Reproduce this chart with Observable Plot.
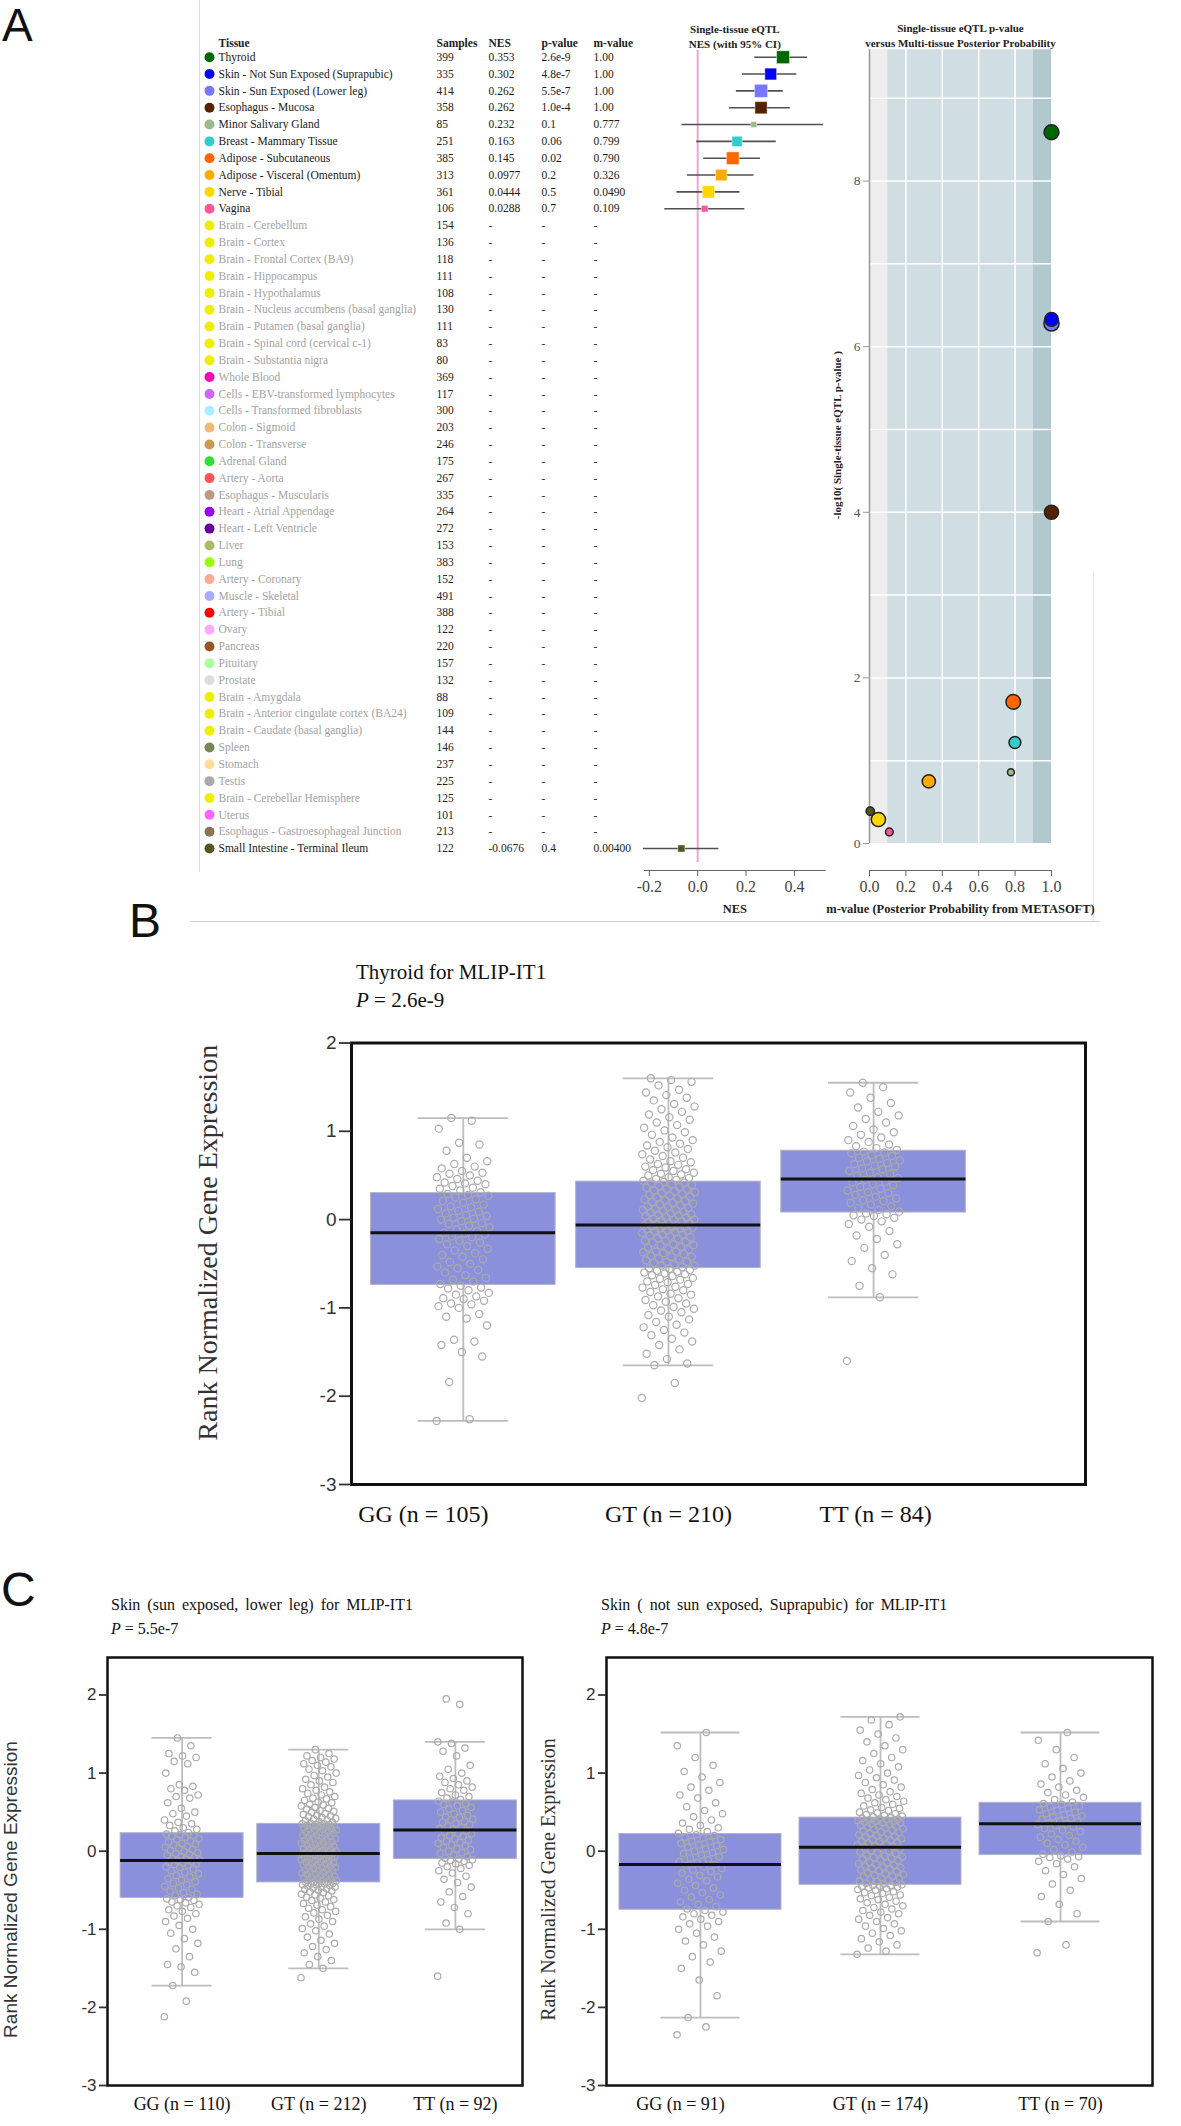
<!DOCTYPE html>
<html><head><meta charset="utf-8">
<script src="https://cdn.jsdelivr.net/npm/d3@7"></script>
<script src="https://cdn.jsdelivr.net/npm/@observablehq/plot@0.6"></script>
<style>
html,body{margin:0;padding:0;background:#fff;}
body{width:1181px;height:2126px;position:relative;overflow:hidden;font-family:"Liberation Serif",serif;color:#111;}
.lab{position:absolute;white-space:nowrap;line-height:1;}
svg{overflow:visible;}
</style></head><body>
<script>
// ---------------- DATA: panel A ----------------
const tissues = ["Thyroid","Skin - Not Sun Exposed (Suprapubic)","Skin - Sun Exposed (Lower leg)","Esophagus - Mucosa","Minor Salivary Gland","Breast - Mammary Tissue","Adipose - Subcutaneous","Adipose - Visceral (Omentum)","Nerve - Tibial","Vagina","Brain - Cerebellum","Brain - Cortex","Brain - Frontal Cortex (BA9)","Brain - Hippocampus","Brain - Hypothalamus","Brain - Nucleus accumbens (basal ganglia)","Brain - Putamen (basal ganglia)","Brain - Spinal cord (cervical c-1)","Brain - Substantia nigra","Whole Blood","Cells - EBV-transformed lymphocytes","Cells - Transformed fibroblasts","Colon - Sigmoid","Colon - Transverse","Adrenal Gland","Artery - Aorta","Esophagus - Muscularis","Heart - Atrial Appendage","Heart - Left Ventricle","Liver","Lung","Artery - Coronary","Muscle - Skeletal","Artery - Tibial","Ovary","Pancreas","Pituitary","Prostate","Brain - Amygdala","Brain - Anterior cingulate cortex (BA24)","Brain - Caudate (basal ganglia)","Spleen","Stomach","Testis","Brain - Cerebellar Hemisphere","Uterus","Esophagus - Gastroesophageal Junction","Small Intestine - Terminal Ileum"];
const tissueColors = ["#006600","#0000ff","#7777ff","#552200","#99bb88","#33cccc","#ff6600","#ffaa00","#ffd700","#ff5599","#eeee00","#eeee00","#eeee00","#eeee00","#eeee00","#eeee00","#eeee00","#eeee00","#eeee00","#ff00bb","#cc66ff","#aaeeff","#eebb77","#cc9955","#33dd33","#ff5555","#bb9988","#9900ff","#660099","#aabb66","#99ff00","#ffaa99","#aaaaff","#ff0000","#ffaaff","#995522","#aaff99","#dddddd","#eeee00","#eeee00","#eeee00","#778855","#ffdd99","#aaaaaa","#eeee00","#ff66ff","#8b7355","#555522"];
const samples = [399,335,414,358,85,251,385,313,361,106,154,136,118,111,108,130,111,83,80,369,117,300,203,246,175,267,335,264,272,153,383,152,491,388,122,220,157,132,88,109,144,146,237,225,125,101,213,122];
const D = "-";
const nesText = ["0.353","0.302","0.262","0.262","0.232","0.163","0.145","0.0977","0.0444","0.0288",D,D,D,D,D,D,D,D,D,D,D,D,D,D,D,D,D,D,D,D,D,D,D,D,D,D,D,D,D,D,D,D,D,D,D,D,D,"-0.0676"];
const pText = ["2.6e-9","4.8e-7","5.5e-7","1.0e-4","0.1","0.06","0.02","0.2","0.5","0.7",D,D,D,D,D,D,D,D,D,D,D,D,D,D,D,D,D,D,D,D,D,D,D,D,D,D,D,D,D,D,D,D,D,D,D,D,D,"0.4"];
const mText = ["1.00","1.00","1.00","1.00","0.777","0.799","0.790","0.326","0.0490","0.109",D,D,D,D,D,D,D,D,D,D,D,D,D,D,D,D,D,D,D,D,D,D,D,D,D,D,D,D,D,D,D,D,D,D,D,D,D,"0.00400"];
const N = null;
const ciLow  = [0.236,0.185,0.160,0.131,-0.065,-0.004,0.025,-0.042,-0.086,-0.136,N,N,N,N,N,N,N,N,N,N,N,N,N,N,N,N,N,N,N,N,N,N,N,N,N,N,N,N,N,N,N,N,N,N,N,N,N,-0.225];
const ciHigh = [0.454,0.410,0.354,0.383,0.520,0.325,0.260,0.233,0.175,0.195,N,N,N,N,N,N,N,N,N,N,N,N,N,N,N,N,N,N,N,N,N,N,N,N,N,N,N,N,N,N,N,N,N,N,N,N,N,0.0875];
const negLog10P = [8.59,6.33,6.28,4.00,0.86,1.22,1.71,0.75,0.29,0.14,N,N,N,N,N,N,N,N,N,N,N,N,N,N,N,N,N,N,N,N,N,N,N,N,N,N,N,N,N,N,N,N,N,N,N,N,N,0.39];
const tableHeaders = ["Tissue","Samples","NES","p-value","m-value"];
const nesTicks = [-0.2,0,0.2,0.4];
const mTicks = [0,0.2,0.4,0.6,0.8,1.0];
const pTicks = [0,2,4,6,8];
const zones = [{x1:0,x2:0.1,fill:"#ededed"},{x1:0.1,x2:0.9,fill:"#d0dde2"},{x1:0.9,x2:1,fill:"#b2c8cf"}];

// ---------------- DATA: panels B, C ----------------
const genotypes = ["GG","GT","TT"];
const rankTicks = [-3,-2,-1,0,1,2];

const thyroidN = [105,210,84];
const thyroidQ1 = [-0.74,-0.55,0.08], thyroidMed = [-0.15,-0.06,0.46], thyroidQ3 = [0.30,0.43,0.78];
const thyroidLo = [-2.28,-1.65,-0.88], thyroidHi = [1.15,1.60,1.55];
const thyroidGG = [-2.28,-2.26,-1.84,-1.55,-1.50,-1.42,-1.38,-1.36,-1.20,-1.12,-1.10,-1.07,-1.00,-0.98,-0.96,-0.95,-0.92,-0.90,-0.89,-0.87,-0.85,-0.83,-0.80,-0.78,-0.77,-0.75,
-0.73,-0.70,-0.68,-0.66,-0.63,-0.60,-0.57,-0.55,-0.53,-0.50,-0.48,-0.45,-0.42,-0.40,-0.38,-0.35,-0.33,-0.30,-0.28,-0.26,-0.24,-0.22,-0.20,-0.19,-0.17,-0.16,-0.15,
-0.13,-0.11,-0.09,-0.07,-0.05,-0.04,-0.02,0.00,0.01,0.02,0.04,0.05,0.07,0.09,0.10,0.12,0.14,0.15,0.17,0.19,0.21,0.23,0.25,0.27,0.28,0.29,
0.31,0.33,0.35,0.36,0.38,0.40,0.41,0.42,0.44,0.46,0.48,0.50,0.52,0.53,0.55,0.58,0.60,0.63,0.66,0.70,0.78,0.85,0.87,1.03,1.12,1.15];
const thyroidGT = [-2.02,-1.85,-1.65,-1.63,-1.58,-1.52,-1.47,-1.42,-1.38,-1.35,-1.31,-1.28,-1.25,-1.22,-1.19,-1.16,-1.13,-1.10,-1.08,-1.05,-1.03,-1.01,-0.99,-0.97,-0.95,-0.93,-0.91,-0.89,-0.87,-0.85,-0.84,-0.82,-0.80,-0.79,-0.77,-0.76,-0.74,-0.73,-0.71,-0.70,-0.68,-0.67,-0.66,-0.64,-0.63,-0.62,-0.61,-0.60,-0.59,-0.58,-0.57,-0.56,
-0.55,-0.54,-0.52,-0.52,-0.51,-0.49,-0.48,-0.48,-0.46,-0.45,-0.44,-0.42,-0.42,-0.41,-0.39,-0.38,-0.37,-0.36,-0.36,-0.34,-0.33,-0.32,-0.31,-0.29,-0.29,-0.28,-0.26,-0.25,-0.24,-0.24,-0.22,-0.21,-0.20,-0.19,-0.18,-0.17,-0.17,-0.15,-0.14,-0.13,-0.13,-0.12,-0.11,-0.10,-0.10,-0.09,-0.09,-0.08,-0.08,-0.07,-0.07,-0.06,
-0.05,-0.04,-0.04,-0.03,-0.02,-0.01,0.00,0.00,0.01,0.02,0.03,0.04,0.05,0.05,0.06,0.07,0.08,0.09,0.10,0.11,0.11,0.12,0.13,0.14,0.15,0.16,0.17,0.18,0.19,0.20,0.21,0.22,0.23,0.24,0.25,0.26,0.27,0.28,0.29,0.30,0.31,0.32,0.33,0.34,0.35,0.36,0.37,0.38,0.39,0.40,0.41,0.42,0.43,
0.44,0.45,0.46,0.47,0.48,0.50,0.51,0.52,0.53,0.55,0.56,0.57,0.59,0.60,0.62,0.63,0.65,0.66,0.68,0.70,0.72,0.74,0.76,0.78,0.80,0.82,0.84,0.86,0.88,0.90,0.93,0.96,0.99,1.01,1.04,1.07,1.10,1.13,1.16,1.19,1.22,1.25,1.28,1.31,1.35,1.38,1.41,1.44,1.47,1.52,1.56,1.58,1.60];
const thyroidTT = [-1.60,-0.88,-0.75,-0.62,-0.55,-0.47,-0.40,-0.32,-0.28,-0.22,-0.18,-0.13,-0.08,-0.05,-0.02,0.00,0.02,0.04,0.05,0.06,0.07,
0.09,0.11,0.13,0.15,0.17,0.19,0.21,0.22,0.24,0.26,0.28,0.30,0.31,0.33,0.35,0.37,0.39,0.40,0.42,0.43,0.45,
0.47,0.48,0.50,0.52,0.53,0.55,0.57,0.58,0.60,0.61,0.63,0.64,0.66,0.67,0.69,0.70,0.72,0.73,0.75,0.76,0.77,
0.79,0.81,0.83,0.85,0.88,0.90,0.93,0.96,0.99,1.02,1.06,1.10,1.14,1.18,1.22,1.27,1.32,1.38,1.44,1.50,1.55];

const legN = [110,212,92];
const legQ1 = [-0.60,-0.40,-0.10], legMed = [-0.12,-0.03,0.27], legQ3 = [0.23,0.35,0.65];
const legLo = [-1.72,-1.50,-1.00], legHi = [1.45,1.30,1.40];
const legGG = [-2.12,-1.92,-1.72,-1.55,-1.48,-1.45,-1.35,-1.25,-1.18,-1.12,-1.05,-1.00,-0.95,-0.90,-0.86,-0.83,-0.80,-0.77,-0.75,-0.72,-0.70,-0.68,-0.66,-0.65,-0.63,-0.62,-0.61,
-0.59,-0.57,-0.55,-0.53,-0.51,-0.49,-0.47,-0.45,-0.43,-0.41,-0.39,-0.37,-0.35,-0.33,-0.31,-0.29,-0.27,-0.25,-0.23,-0.21,-0.20,-0.18,-0.17,-0.16,-0.15,-0.14,-0.13,-0.12,
-0.11,-0.10,-0.09,-0.08,-0.07,-0.05,-0.04,-0.03,-0.02,0.00,0.01,0.02,0.04,0.05,0.06,0.08,0.09,0.10,0.12,0.13,0.15,0.16,0.18,0.19,0.20,0.21,0.22,
0.24,0.26,0.28,0.30,0.33,0.35,0.37,0.40,0.45,0.48,0.50,0.55,0.62,0.68,0.70,0.72,0.78,0.80,0.83,0.85,1.00,1.12,1.15,1.20,1.22,1.25,1.35,1.45];
const legGT = [-1.62,-1.50,-1.45,-1.40,-1.35,-1.30,-1.26,-1.22,-1.18,-1.14,-1.10,-1.06,-1.02,-0.99,-0.96,-0.93,-0.90,-0.87,-0.84,-0.82,-0.79,-0.77,-0.75,-0.73,-0.71,-0.69,-0.67,-0.65,-0.63,-0.62,-0.60,-0.59,-0.57,-0.56,-0.55,-0.53,-0.52,-0.51,-0.50,-0.49,-0.48,-0.47,-0.46,-0.46,-0.45,-0.44,-0.43,-0.43,-0.42,-0.42,-0.41,-0.41,-0.40,
-0.39,-0.39,-0.38,-0.37,-0.36,-0.36,-0.35,-0.34,-0.33,-0.33,-0.32,-0.31,-0.30,-0.29,-0.29,-0.28,-0.27,-0.26,-0.25,-0.25,-0.24,-0.23,-0.22,-0.21,-0.21,-0.20,-0.19,-0.18,-0.17,-0.17,-0.16,-0.15,-0.14,-0.14,-0.13,-0.12,-0.11,-0.11,-0.10,-0.09,-0.09,-0.08,-0.08,-0.07,-0.07,-0.06,-0.06,-0.05,-0.05,-0.04,-0.04,-0.03,-0.03,
-0.02,-0.02,-0.01,0.00,0.00,0.01,0.02,0.02,0.03,0.04,0.05,0.05,0.06,0.07,0.08,0.08,0.09,0.10,0.11,0.12,0.12,0.13,0.14,0.15,0.16,0.16,0.17,0.18,0.19,0.20,0.20,0.21,0.22,0.23,0.24,0.24,0.25,0.26,0.27,0.28,0.28,0.29,0.30,0.30,0.31,0.32,0.32,0.33,0.33,0.34,0.34,0.35,0.35,
0.36,0.37,0.38,0.39,0.40,0.41,0.42,0.43,0.44,0.45,0.46,0.47,0.48,0.50,0.51,0.52,0.54,0.55,0.56,0.58,0.59,0.60,0.62,0.63,0.65,0.67,0.68,0.70,0.72,0.74,0.76,0.78,0.80,0.82,0.85,0.88,0.90,0.92,0.95,0.97,1.00,1.03,1.05,1.08,1.10,1.12,1.14,1.16,1.18,1.20,1.22,1.25,1.30];
const legTT = [-1.60,-1.00,-0.92,-0.80,-0.72,-0.65,-0.58,-0.52,-0.46,-0.40,-0.36,-0.32,-0.28,-0.25,-0.22,-0.20,-0.18,-0.16,-0.15,-0.13,-0.12,-0.11,-0.10,
-0.09,-0.07,-0.05,-0.03,-0.02,0.00,0.02,0.03,0.05,0.07,0.08,0.10,0.11,0.13,0.14,0.16,0.17,0.19,0.20,0.22,0.23,0.25,0.26,
0.28,0.29,0.31,0.32,0.34,0.35,0.37,0.38,0.40,0.41,0.43,0.44,0.46,0.48,0.50,0.52,0.54,0.56,0.58,0.60,0.61,0.63,0.64,
0.66,0.68,0.70,0.72,0.75,0.78,0.80,0.82,0.85,0.88,0.90,0.93,0.96,1.00,1.05,1.10,1.22,1.28,1.32,1.38,1.40,1.88,1.95];

const supraN = [91,174,70];
const supraQ1 = [-0.75,-0.43,-0.05], supraMed = [-0.17,0.05,0.35], supraQ3 = [0.22,0.43,0.62];
const supraLo = [-2.13,-1.32,-0.90], supraHi = [1.52,1.72,1.52];
const supraGG = [-2.35,-2.25,-2.13,-1.85,-1.65,-1.50,-1.42,-1.35,-1.28,-1.20,-1.15,-1.10,-1.05,-1.00,-0.96,-0.93,-0.90,-0.87,-0.84,-0.82,-0.80,-0.78,-0.76,
-0.74,-0.71,-0.68,-0.65,-0.62,-0.59,-0.56,-0.53,-0.50,-0.47,-0.44,-0.41,-0.38,-0.36,-0.33,-0.31,-0.28,-0.26,-0.24,-0.22,-0.20,-0.18,-0.17,
-0.15,-0.13,-0.11,-0.09,-0.07,-0.05,-0.03,-0.02,0.00,0.02,0.03,0.05,0.07,0.08,0.10,0.12,0.13,0.15,0.17,0.18,0.20,0.21,
0.23,0.25,0.28,0.30,0.33,0.36,0.40,0.44,0.48,0.52,0.57,0.62,0.68,0.72,0.78,0.82,0.88,0.95,1.02,1.10,1.20,1.35,1.52];
const supraGT = [-1.32,-1.28,-1.24,-1.20,-1.16,-1.12,-1.08,-1.05,-1.02,-0.99,-0.96,-0.93,-0.90,-0.87,-0.85,-0.82,-0.80,-0.78,-0.76,-0.74,-0.72,-0.70,-0.68,-0.66,-0.64,-0.62,-0.61,-0.59,-0.57,-0.56,-0.54,-0.53,-0.52,-0.50,-0.49,-0.48,-0.47,-0.46,-0.45,-0.45,-0.44,-0.44,-0.43,
-0.42,-0.41,-0.40,-0.39,-0.38,-0.37,-0.36,-0.35,-0.34,-0.33,-0.32,-0.31,-0.30,-0.29,-0.28,-0.26,-0.25,-0.24,-0.23,-0.22,-0.21,-0.20,-0.19,-0.18,-0.17,-0.16,-0.15,-0.14,-0.12,-0.11,-0.10,-0.09,-0.08,-0.07,-0.06,-0.05,-0.03,-0.02,-0.01,0.00,0.01,0.03,0.04,0.05,
0.06,0.07,0.08,0.09,0.10,0.11,0.12,0.13,0.14,0.15,0.16,0.17,0.18,0.19,0.20,0.21,0.22,0.23,0.24,0.25,0.26,0.27,0.28,0.29,0.30,0.31,0.32,0.32,0.33,0.34,0.35,0.36,0.36,0.37,0.38,0.38,0.39,0.40,0.40,0.41,0.41,0.42,0.43,
0.44,0.45,0.46,0.47,0.48,0.49,0.50,0.52,0.53,0.55,0.56,0.58,0.60,0.62,0.64,0.66,0.68,0.70,0.72,0.74,0.76,0.79,0.82,0.85,0.88,0.91,0.94,0.97,1.00,1.04,1.08,1.12,1.16,1.20,1.25,1.30,1.35,1.40,1.45,1.50,1.55,1.62,1.68,1.72];
const supraTT = [-1.30,-1.20,-0.90,-0.80,-0.68,-0.58,-0.50,-0.42,-0.35,-0.30,-0.25,-0.20,-0.16,-0.13,-0.10,-0.08,-0.07,-0.06,
-0.04,-0.01,0.02,0.05,0.08,0.10,0.13,0.15,0.18,0.20,0.22,0.25,0.27,0.29,0.31,0.33,0.34,0.35,
0.36,0.38,0.39,0.41,0.42,0.44,0.45,0.47,0.48,0.50,0.52,0.53,0.55,0.57,0.58,0.60,0.61,
0.63,0.66,0.69,0.72,0.75,0.78,0.82,0.86,0.90,0.95,1.00,1.06,1.12,1.20,1.30,1.42,1.52];

// ---------------- helpers ----------------
const SERIF = "Liberation Serif, Times New Roman, serif";
const SANS = "Liberation Sans, Arial, sans-serif";
function put(el, left, top) {
  const d = document.createElement("div");
  d.style.cssText = `position:absolute;left:${left}px;top:${top}px;`;
  d.append(el); document.body.append(d); return d;
}
function lab(html, left, top, css) {
  const d = document.createElement("div");
  d.className = "lab";
  d.style.cssText += `left:${left}px;top:${top}px;${css}`;
  d.innerHTML = html; document.body.append(d); return d;
}
function line(left, top, w, h, c) {
  const d = document.createElement("div");
  d.style.cssText = `position:absolute;left:${left}px;top:${top}px;width:${w}px;height:${h}px;background:${c};`;
  document.body.append(d);
}

// page furniture
line(199, 0, 1, 872, "#dcdcdc");
line(190, 921, 910, 1, "#d0d0d0");
line(1093, 573, 1, 348, "#e4e4e4");
lab("A", 2, -2, `font:46px ${SANS};`);
lab("B", 129, 893, `font:48px ${SANS};`);
lab("C", 1, 1562, `font:48px ${SANS};`);

// ---------------- Panel A: table + forest ----------------
const rows = tissues.map((t, i) => ({t, i, color: tissueColors[i], n: samples[i], nes: nesText[i], p: pText[i], m: mText[i],
  active: nesText[i] !== "-", lo: ciLow[i], hi: ciHigh[i], y: negLog10P[i]}));
const act = rows.filter(d => d.active);
const colDx = [-426, -208, -156, -103, -51];
const txtFill = d => d.active ? "#1a1a1a" : "#a3a3a3";
const numFill = d => d.active ? "#1a1a1a" : "#333";

const forest = Plot.plot({
  width: 840, height: 930,
  marginLeft: 644, marginRight: 15.4, marginTop: 30, marginBottom: 60,
  style: {background: "transparent", fontFamily: SERIF, fontSize: "16px", color: "#444"},
  x: {domain: [-0.22, 0.527]},
  y: {type: "point", domain: tissues, range: [56.7, 848], padding: 0, axis: null},
  r: {type: "sqrt", domain: [0, 414], range: [0, 7.4]},
  color: {type: "identity"},
  marks: [
    ...tableHeaders.map((h, k) => Plot.text([h], {frameAnchor: "top-left", dx: colDx[k], dy: 8, text: d => d, textAnchor: "start", fontWeight: "bold", fontSize: 11.5, fill: "#222"})),
    Plot.dot(rows, {y: "t", frameAnchor: "left", dx: -435, r: 5, fill: "color"}),
    Plot.text(rows, {y: "t", frameAnchor: "left", dx: colDx[0], text: "t", textAnchor: "start", fontSize: 11.5, fill: txtFill}),
    Plot.text(rows, {y: "t", frameAnchor: "left", dx: colDx[1], text: d => String(d.n), textAnchor: "start", fontSize: 11.5, fill: "#222"}),
    Plot.text(rows, {y: "t", frameAnchor: "left", dx: colDx[2], text: "nes", textAnchor: "start", fontSize: 11.5, fill: numFill}),
    Plot.text(rows, {y: "t", frameAnchor: "left", dx: colDx[3], text: "p", textAnchor: "start", fontSize: 11.5, fill: numFill}),
    Plot.text(rows, {y: "t", frameAnchor: "left", dx: colDx[4], text: "m", textAnchor: "start", fontSize: 11.5, fill: numFill}),
    Plot.ruleX([0], {stroke: "#f4a4c8", strokeWidth: 2, insetTop: 20, insetBottom: 8}),
    Plot.ruleY(act, {y: "t", x1: "lo", x2: "hi", stroke: "#505050", strokeWidth: 1.6}),
    Plot.dot(act, {x: d => +d.nes, y: "t", r: "n", symbol: "square", fill: "color", stroke: "#ffffff", strokeOpacity: 0.45, strokeWidth: 1}),
    Plot.frame({anchor: "bottom", stroke: "#666"}),
    Plot.axisX({ticks: nesTicks, tickFormat: d => d.toFixed(1), tickSize: 6, tickPadding: 4, label: null, fontSize: 16, fill: "#444", stroke: "#666"}),
    Plot.text(["NES"], {frameAnchor: "bottom", dy: 42, text: d => d, fontWeight: "bold", fontSize: 12.5, fill: "#222"}),
    Plot.text(["Single-tissue eQTL"], {frameAnchor: "top", dy: -5, text: d => d, fontWeight: "bold", fontSize: 11, fill: "#222"}),
    Plot.text(["NES (with 95% CI)"], {frameAnchor: "top", dy: 10, text: d => d, fontWeight: "bold", fontSize: 11, fill: "#222"})
  ]
});
put(forest, 0, 0);

// ---------------- Panel A: scatter ----------------
const pTop = 9.585;
const scatter = Plot.plot({
  width: 361, height: 930,
  marginLeft: 49, marginRight: 130, marginTop: 49.3, marginBottom: 60,
  style: {background: "transparent", fontFamily: SERIF, fontSize: "13.5px", color: "#555"},
  x: {domain: [0, 1]},
  y: {domain: [0, pTop], range: [843, 49.3]},
  r: {type: "sqrt", domain: [0, 414], range: [0, 7.6]},
  color: {type: "identity"},
  marks: [
    Plot.rect(zones, {x1: "x1", x2: "x2", y1: 0, y2: pTop, fill: "fill"}),
    Plot.ruleX([0.2, 0.4, 0.6, 0.8], {y1: 0, y2: pTop, stroke: "#ffffff", strokeWidth: 1.5}),
    Plot.ruleY([1, 2, 3, 4, 5, 6, 7, 8, 9], {x1: 0, x2: 1, stroke: "#ffffff", strokeWidth: 1.5}),
    Plot.ruleX([0], {y1: 0, y2: pTop, stroke: "#999", strokeWidth: 1.5}),
    Plot.dot(act.slice().reverse(), {x: d => +d.m, y: "y", r: "n", fill: "color", stroke: "#222", strokeWidth: 1.5}),
    Plot.axisY({ticks: pTicks, tickSize: 6, tickPadding: 3, label: null, fontSize: 13.5, fill: "#555", stroke: "#999"}),
    Plot.frame({anchor: "bottom", stroke: "#666"}),
    Plot.axisX({ticks: mTicks, tickFormat: d => d.toFixed(1), tickSize: 6, tickPadding: 4, label: null, fontSize: 16, fill: "#444", stroke: "#666"}),
    Plot.text(["m-value (Posterior Probability from METASOFT)"], {frameAnchor: "bottom", dy: 42, text: d => d, fontWeight: "bold", fontSize: 12.5, fill: "#222"}),
    Plot.text(["Single-tissue eQTL p-value"], {frameAnchor: "top", dy: -26, text: d => d, fontWeight: "bold", fontSize: 11, fill: "#222"}),
    Plot.text(["versus Multi-tissue Posterior Probability"], {frameAnchor: "top", dy: -11, text: d => d, fontWeight: "bold", fontSize: 11, fill: "#222"}),
    Plot.text(["-log10( Single-tissue eQTL p-value )"], {frameAnchor: "left", dx: -32, dy: -25, rotate: -90, textAnchor: "middle", text: d => d, fontWeight: "bold", fontSize: 11, fill: "#222"})
  ]
});
put(scatter, 820, 0);

// ---------------- Panels B, C: box plots ----------------
function boxPanel(c) {
  const groups = [c.gg, c.gt, c.tt];
  const pts = groups.flatMap((arr, g) => arr.map((v, i) => ({g, v, j: ((i * 0.6180339887) % 1 - 0.5) * 0.26})));
  const stats = genotypes.map((k, g) => ({g, q1: c.q1[g], med: c.med[g], q3: c.q3[g], lo: c.lo[g], hi: c.hi[g],
    label: `${k} (n = ${c.n[g]})`}));
  const hw = 0.45, cw = 0.22;
  return Plot.plot({
    width: c.width, height: c.height,
    marginLeft: c.frame.l - c.left, marginRight: c.left + c.width - c.frame.r,
    marginTop: c.frame.t - c.top, marginBottom: c.top + c.height - c.frame.b,
    style: {background: "transparent", fontFamily: SANS, fontSize: c.tickFont + "px", color: "#333"},
    x: {domain: c.xDomain, axis: null},
    y: {domain: c.yDomain},
    marks: [
      Plot.ruleX(stats, {x: "g", y1: "lo", y2: "hi", stroke: "#bdbdbd", strokeWidth: 1.8}),
      Plot.ruleY(stats, {y: "hi", x1: d => d.g - cw, x2: d => d.g + cw, stroke: "#bdbdbd", strokeWidth: 1.8}),
      Plot.ruleY(stats, {y: "lo", x1: d => d.g - cw, x2: d => d.g + cw, stroke: "#bdbdbd", strokeWidth: 1.8}),
      Plot.rect(stats, {x1: d => d.g - hw, x2: d => d.g + hw, y1: "q1", y2: "q3", fill: "#8b90dc", stroke: "#b4b4c4", strokeWidth: 1}),
      Plot.dot(pts, {x: d => d.g + d.j, y: "v", r: c.r, fill: "none", stroke: "#ababab", strokeWidth: 1.2}),
      Plot.ruleY(stats, {y: "med", x1: d => d.g - hw, x2: d => d.g + hw, stroke: "#111", strokeWidth: 3}),
      Plot.frame({stroke: "#111", strokeWidth: c.frameW}),
      Plot.axisY({ticks: rankTicks, tickFormat: d => String(d), tickSize: c.tickLen, tickPadding: 3, label: null,
        fontSize: c.tickFont, fill: "#333", stroke: "#333", strokeWidth: 1.8}),
      ...stats.map((s, g) => Plot.text([s], {x: "g", frameAnchor: "bottom", dy: c.labelDy, dx: c.labelShift[g], text: "label",
        fontFamily: SERIF, fontSize: c.labelFont, fill: "#111"})),
      Plot.text([c.yTitle], {frameAnchor: "left", dx: c.yTitleX - c.frame.l, dy: c.yTitleDy, rotate: -90, textAnchor: "middle", text: d => d,
        fontFamily: c.yTitleFamily, fontSize: c.yTitleFont, fill: "#333"})
    ]
  });
}

const yTitle = "Rank Normalized Gene Expression";

// Panel B
lab("Thyroid for MLIP-IT1", 356, 960, `font:21px ${SERIF};`);
lab("<i>P</i> = 2.6e-9", 356, 988, `font:21px ${SERIF};`);
put(boxPanel({left: 0, top: 1015, width: 1181, height: 530,
  frame: {l: 351, r: 1085, t: 1042.5, b: 1484},
  xDomain: [-0.545, 3.033], yDomain: [-3, 2],
  gg: thyroidGG, gt: thyroidGT, tt: thyroidTT, n: thyroidN,
  q1: thyroidQ1, med: thyroidMed, q3: thyroidQ3, lo: thyroidLo, hi: thyroidHi,
  r: 3.6, frameW: 3, tickFont: 19, tickLen: 12, labelFont: 24, labelDy: 37, labelShift: [-40, 0, 2],
  yTitle, yTitleX: 208, yTitleDy: -21, yTitleFamily: SERIF, yTitleFont: 28}), 0, 1015);

// Panel C left
lab("Skin (sun exposed, lower leg) for MLIP-IT1", 111, 1596, `font:16px ${SERIF};word-spacing:3px;`);
lab("<i>P</i> = 5.5e-7", 111, 1620, `font:16px ${SERIF};`);
put(boxPanel({left: 0, top: 1630, width: 560, height: 496,
  frame: {l: 107, r: 522, t: 1657, b: 2085},
  xDomain: [-0.546, 2.491], yDomain: [-3, 2.48],
  gg: legGG, gt: legGT, tt: legTT, n: legN,
  q1: legQ1, med: legMed, q3: legQ3, lo: legLo, hi: legHi,
  r: 3.2, frameW: 2.5, tickFont: 17, tickLen: 8, labelFont: 18, labelDy: 24, labelShift: [0, 0, 0],
  yTitle, yTitleX: 10, yTitleDy: 18, yTitleFamily: SANS, yTitleFont: 19}), 0, 1630);

// Panel C right
lab("Skin ( not sun exposed, Suprapubic) for MLIP-IT1", 601, 1596, `font:16px ${SERIF};word-spacing:3px;`);
lab("<i>P</i> = 4.8e-7", 601, 1620, `font:16px ${SERIF};`);
put(boxPanel({left: 560, top: 1630, width: 621, height: 496,
  frame: {l: 606, r: 1152, t: 1657, b: 2085},
  xDomain: [-0.522, 2.511], yDomain: [-3, 2.48],
  gg: supraGG, gt: supraGT, tt: supraTT, n: supraN,
  q1: supraQ1, med: supraMed, q3: supraQ3, lo: supraLo, hi: supraHi,
  r: 3.2, frameW: 2.5, tickFont: 17, tickLen: 8, labelFont: 18, labelDy: 24, labelShift: [-20, 0, 0],
  yTitle, yTitleX: 548, yTitleDy: 8, yTitleFamily: SERIF, yTitleFont: 20}), 560, 1630);
</script>
</body></html>
